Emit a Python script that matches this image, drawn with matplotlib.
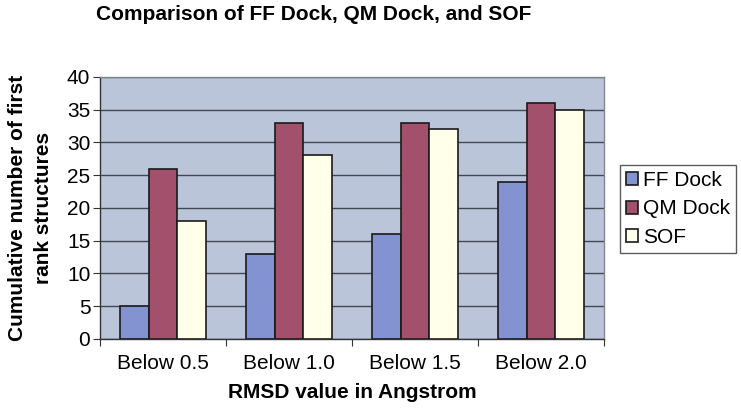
import numpy as np
import matplotlib.pyplot as plt

plt.rcParams['font.family'] = ['Liberation Sans', 'DejaVu Sans']

# Data
categories = ['Below 0.5', 'Below 1.0', 'Below 1.5', 'Below 2.0']
ff_dock = [5, 13, 16, 24]
qm_dock = [26, 33, 33, 36]
sof = [18, 28, 32, 35]
series_names = ['FF Dock', 'QM Dock', 'SOF']
colors = ['#8393D2', '#A3506C', '#FFFFEA']

fig = plt.figure(figsize=(7.41, 4.2), dpi=100)
ax = fig.add_axes([0.135, 0.193, 0.68, 0.624])
ax.set_facecolor('#BAC5D9')

x = np.arange(len(categories))
width = 0.227
for i, (vals, name, col) in enumerate(zip([ff_dock, qm_dock, sof], series_names, colors)):
    ax.bar(x + (i - 1) * width, vals, width=width, color=col, edgecolor='#1a1a1a',
           linewidth=1.2, label=name, zorder=3)

ax.set_ylim(0, 40)
ax.set_xlim(-0.5, len(categories) - 0.5)
ax.set_yticks(range(0, 41, 5))
ax.yaxis.grid(True, color='#404850', linewidth=1.0, zorder=1)
ax.set_axisbelow(True)

# category boundary ticks on x axis, labels centred
ax.set_xticks(np.arange(-0.5, len(categories), 1.0))
ax.set_xticklabels([])
ax.set_xticks(x, minor=True)
ax.set_xticklabels(categories, minor=True)
ax.tick_params(axis='x', which='minor', length=0, pad=11, labelsize=15)
ax.tick_params(axis='x', which='major', length=5, color='#333333')
ax.tick_params(axis='y', labelsize=15, length=5, color='#333333', pad=2)

for side in ['left', 'bottom']:
    ax.spines[side].set_color('#333333')
    ax.spines[side].set_linewidth(1.0)
for side in ['top', 'right']:
    ax.spines[side].set_color('#808890')
    ax.spines[side].set_linewidth(1.0)

ax.set_ylabel('Cumulative number of first\nrank structures', fontsize=15,
              fontweight='bold', labelpad=10, linespacing=1.45)
ax.set_xlabel('RMSD value in Angstrom', fontsize=15, fontweight='bold', labelpad=7)
fig.suptitle('Comparison of FF Dock, QM Dock, and SOF', fontsize=15,
             fontweight='bold', x=0.423, y=0.987, va='top')

leg = ax.legend(loc='center left', bbox_to_anchor=(1.032, 0.496), fontsize=15,
                frameon=True, fancybox=False, edgecolor='#333333',
                handlelength=0.58, handleheight=0.58, handletextpad=0.22,
                borderpad=0.3, labelspacing=0.45, borderaxespad=0)
leg.get_frame().set_linewidth(1.0)

fig.savefig('out.png', dpi=100)
